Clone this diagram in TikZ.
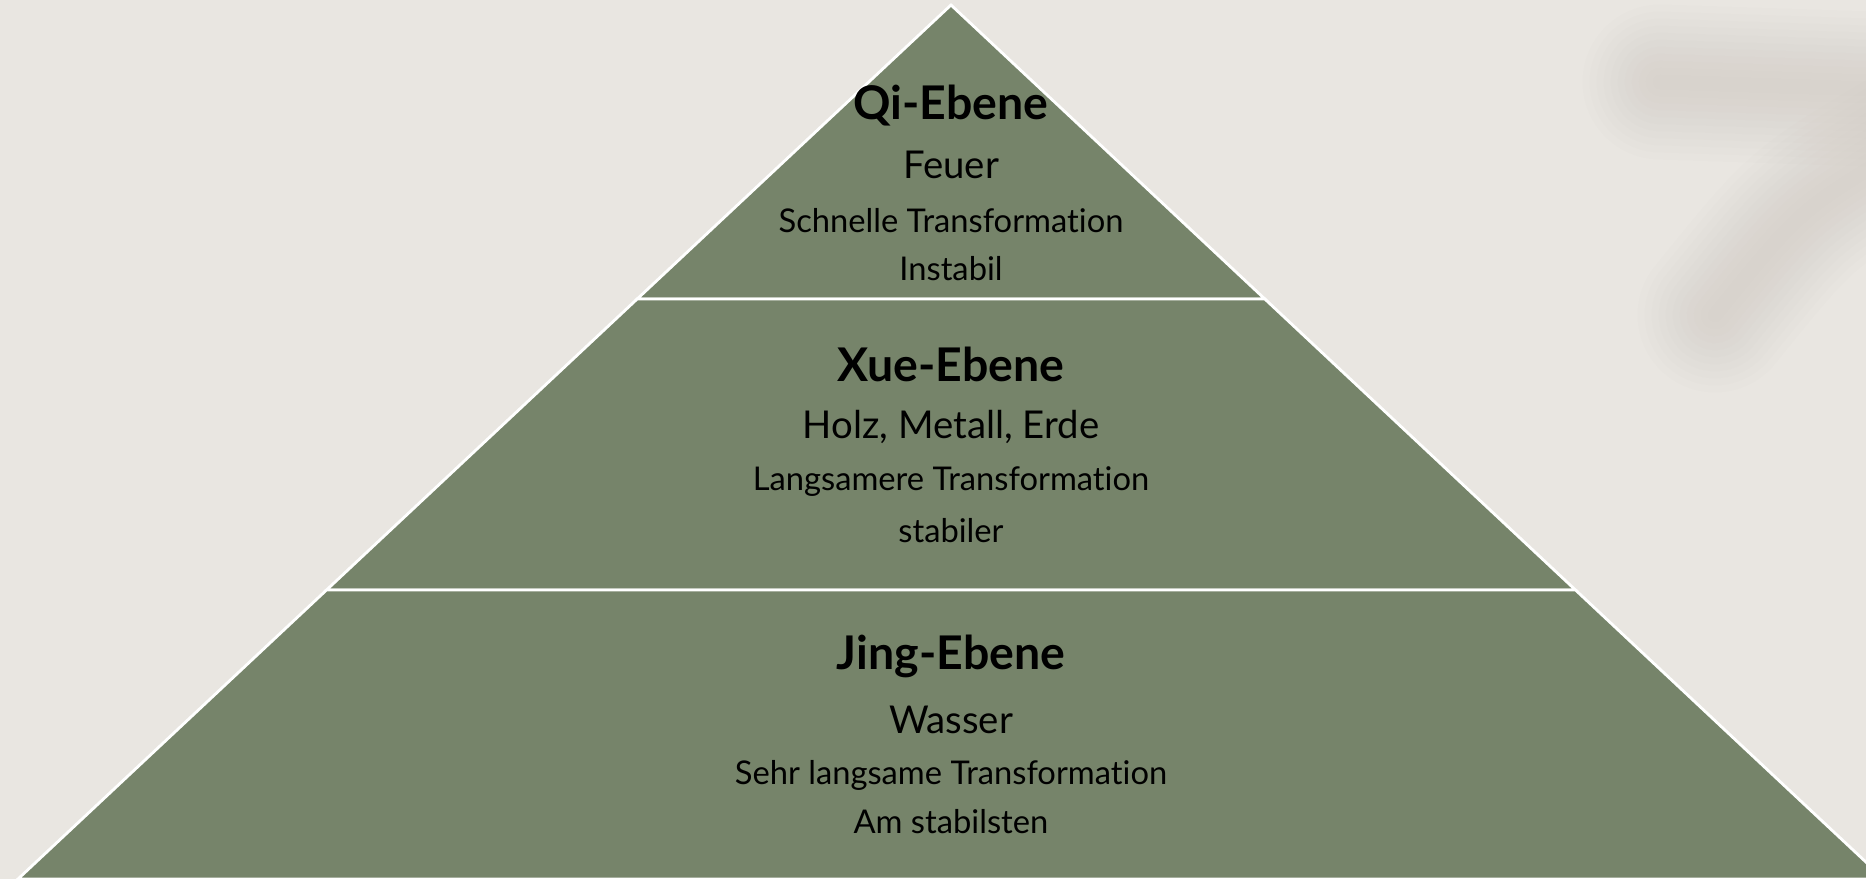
\documentclass[tikz,border=0pt]{standalone}
\usepackage{fontspec}
\setmainfont{Lato}[Ligatures=NoCommon]
\usetikzlibrary{calc}
\definecolor{bgsand}{HTML}{E9E6E1}
\definecolor{sage}{HTML}{76846A}
\definecolor{smudge}{HTML}{C4BEB6}
\tikzset{
  levelname/.style={font=\bfseries\fontsize{13.2}{16}\selectfont},
  element/.style={font=\fontsize{10.9}{12}\selectfont},
  note/.style={font=\fontsize{9.3}{11}\selectfont},
  layer/.style={fill=sage, draw=white, line width=0.8pt, line join=miter}
}
\begin{document}
\begin{tikzpicture}[x=0.01cm,y=-0.01cm,inner sep=0pt]
  \fill[bgsand] (0,0) rectangle (1866,879);
  \useasboundingbox (0,0) rectangle (1866,879);
  % blurred smudge, top right
  \foreach \w in {44,40,...,4} {
    \draw[smudge, line width=\w pt, opacity=.04, line cap=round] (1660,82) -- (1900,90);
    \draw[smudge, line width=\w pt, opacity=.04, line cap=round] (1900,150) .. controls (1800,210) .. (1715,315);
  }
  \path (951,5) coordinate (apex) (18,879) coordinate (bl) (1884,879) coordinate (br)
    ($(apex)!.3364!(bl)$) coordinate (l1) ($(apex)!.3364!(br)$) coordinate (r1)
    ($(apex)!.6693!(bl)$) coordinate (l2) ($(apex)!.6693!(br)$) coordinate (r2);
  \draw[layer] (apex) -- (l1) -- (r1) -- cycle;
  \draw[layer] (l1) -- (l2) -- (r2) -- (r1) -- cycle;
  \draw[layer] (l2) -- (bl) -- (br) -- (r2) -- cycle;
  % Qi
  \node[levelname] (qi) at (951,106) {Qi-Ebene};
  \node[element] (feuer) at (951,165) {Feuer};
  \node[note] (qispeed) at (951,221) {Schnelle Transformation};
  \node[note] (qistab) at (951,269) {Instabil};
  % Xue
  \node[levelname] (xue) at (951,364) {Xue-Ebene};
  \node[element] (holz) at (951,427) {Holz, Metall, Erde};
  \node[note] (xuespeed) at (951,482) {Langsamere Transformation};
  \node[note] (xuestab) at (951,531) {stabiler};
  % Jing
  \node[levelname] (jing) at (951,656) {Jing-Ebene};
  \node[element] (wasser) at (951,720) {Wasser};
  \node[note] (jingspeed) at (951,775) {Sehr langsame Transformation};
  \node[note] (jingstab) at (951,822) {Am stabilsten};
\end{tikzpicture}
\end{document}
